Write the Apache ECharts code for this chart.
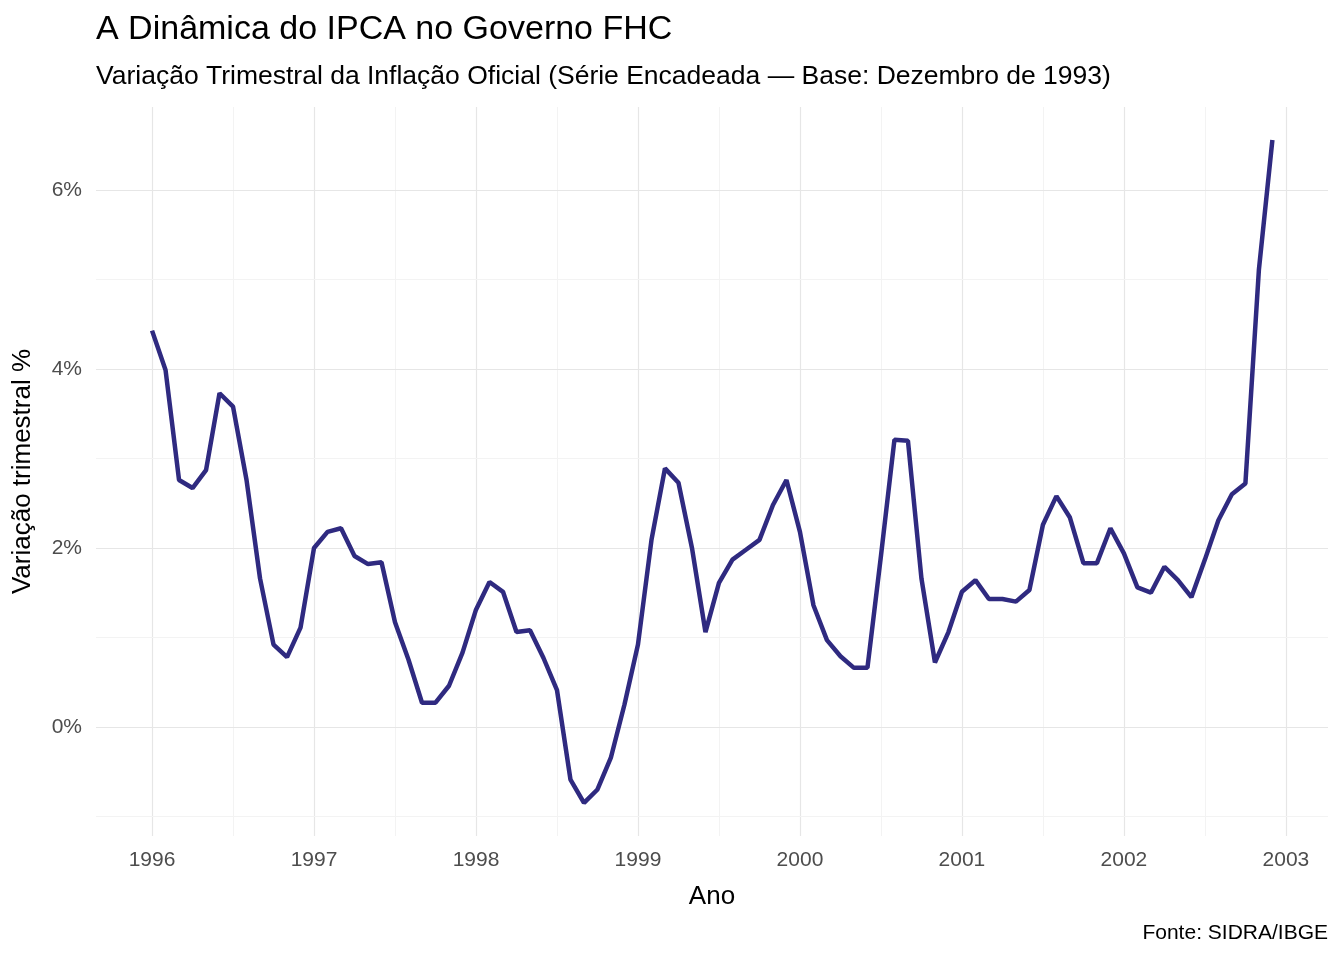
<!DOCTYPE html>
<html>
<head>
<meta charset="utf-8">
<script src="https://cdn.jsdelivr.net/npm/echarts@6/dist/echarts.min.js"></script>
<style>html,body{margin:0;padding:0;background:#fff}#chart{width:1344px;height:960px}</style>
</head>
<body>
<div id="chart"></div>
<script>
// variação trimestral (%), mensal de jan/1996 a dez/2002
var startYear = 1996;
var values = [
  4.43, 3.99, 2.76, 2.67, 2.87, 3.73, 3.58, 2.76, 1.66, 0.92, 0.78, 1.11,
  2.00, 2.18, 2.22, 1.91, 1.82, 1.84, 1.17, 0.75, 0.27, 0.27, 0.46, 0.83,
  1.31, 1.62, 1.51, 1.06, 1.08, 0.77, 0.41, -0.59, -0.85, -0.70, -0.34, 0.25,
  0.92, 2.09, 2.89, 2.73, 2.00, 1.06, 1.61, 1.87, 1.98, 2.09, 2.48, 2.76,
  2.18, 1.36, 0.97, 0.79, 0.66, 0.66, 1.91, 3.21, 3.20, 1.66, 0.72, 1.06,
  1.51, 1.64, 1.43, 1.43, 1.40, 1.53, 2.26, 2.58, 2.34, 1.83, 1.83, 2.22,
  1.94, 1.56, 1.50, 1.79, 1.64, 1.45, 1.87, 2.31, 2.60, 2.72, 5.11, 6.56
];
var xTicks = [1996, 1997, 1998, 1999, 2000, 2001, 2002, 2003];
var xMinor = [1996.5, 1997.5, 1998.5, 1999.5, 2000.5, 2001.5, 2002.5];
var yTicks = [0, 2, 4, 6];
var yMinor = [-1, 1, 3, 5];

var points = values.map(function (v, i) { return [startYear + i / 12, v]; });
var majorC = '#e6e6e6', minorC = '#f3f3f3';
var gridLines = [];
xTicks.forEach(function (x) { gridLines.push({ xAxis: x, lineStyle: { color: majorC, width: 1.2, type: 'solid' } }); });
xMinor.forEach(function (x) { gridLines.push({ xAxis: x, lineStyle: { color: minorC, width: 1, type: 'solid' } }); });
yTicks.forEach(function (y) { gridLines.push({ yAxis: y, lineStyle: { color: majorC, width: 1.2, type: 'solid' } }); });
yMinor.forEach(function (y) { gridLines.push({ yAxis: y, lineStyle: { color: minorC, width: 1, type: 'solid' } }); });

var chart = echarts.init(document.getElementById('chart'));
chart.setOption({
  animation: false,
  textStyle: { fontFamily: 'Liberation Sans, Arial, sans-serif' },
  title: [
    { text: 'A Dinâmica do IPCA no Governo FHC', left: 91, top: 8,
      textStyle: { fontSize: 34, fontWeight: 'normal', color: '#000' } },
    { text: 'Variação Trimestral da Inflação Oficial (Série Encadeada — Base: Dezembro de 1993)',
      left: 91, top: 58, textStyle: { fontSize: 26.5, fontWeight: 'normal', color: '#000' } },
    { text: 'Fonte: SIDRA/IBGE', right: 11, top: 918,
      textStyle: { fontSize: 21, fontWeight: 'normal', color: '#000' } }
  ],
  grid: { left: 96, right: 16, top: 107, bottom: 124 },
  xAxis: {
    type: 'value', min: 1995.654, max: 2003.26,
    name: 'Ano', nameLocation: 'middle', nameGap: 48,
    nameTextStyle: { fontSize: 26, color: '#000' },
    axisLine: { show: false }, axisTick: { show: false }, splitLine: { show: false },
    axisLabel: { customValues: xTicks, fontSize: 21, color: '#4d4d4d', margin: 14,
      formatter: function (v) { return String(Math.round(v)); } }
  },
  yAxis: {
    type: 'value', min: -1.22, max: 6.93,
    name: 'Variação trimestral %', nameLocation: 'middle', nameGap: 60,
    nameTextStyle: { fontSize: 26, color: '#000' },
    axisLine: { show: false }, axisTick: { show: false }, splitLine: { show: false },
    axisLabel: { customValues: yTicks, fontSize: 21, color: '#4d4d4d', margin: 14,
      formatter: function (v) { return v + '%'; } }
  },
  series: [{
    type: 'line', data: points, showSymbol: false, z: 3,
    lineStyle: { color: '#2f2a80', width: 4.5 },
    markLine: { silent: true, symbol: 'none', label: { show: false }, z: 1, data: gridLines }
  }]
});
</script>
</body>
</html>
